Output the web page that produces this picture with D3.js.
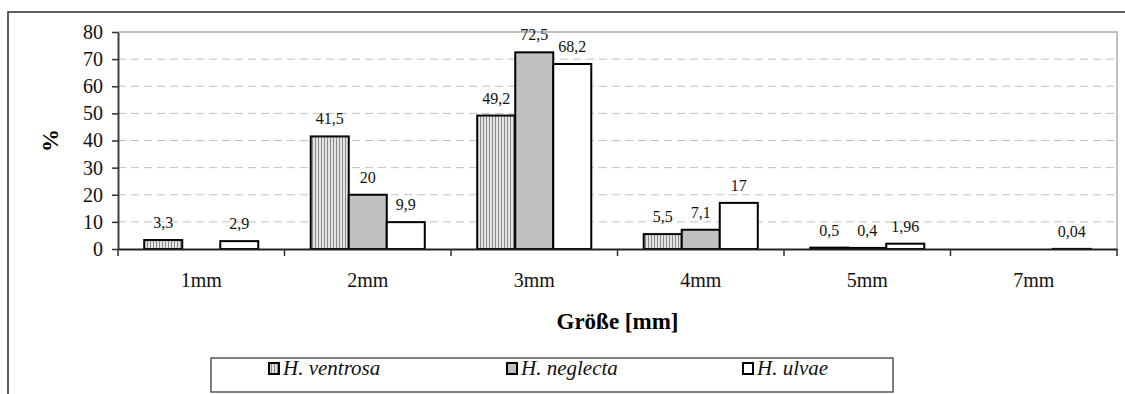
<!DOCTYPE html>
<html>
<head>
<meta charset="utf-8">
<script src="https://cdn.jsdelivr.net/npm/d3@7"></script>
<style>
	body { margin: 0; background: #fff; }
	svg { display: block; }
	svg text { font-family: "Liberation Serif", "Times New Roman", "DejaVu Serif", serif; }
</style>
</head>
<body>
<svg id="chart" width="1125" height="394"></svg>
<script>
// chart data
var categories = ["1mm", "2mm", "3mm", "4mm", "5mm", "7mm"];
var seriesNames = ["H. ventrosa", "H. neglecta", "H. ulvae"];
var ventrosa = [3.3, 41.5, 49.2, 5.5, 0.5, null];
var neglecta = [null, 20, 72.5, 7.1, 0.4, null];
var ulvae = [2.9, 9.9, 68.2, 17, 1.96, 0.04];
var yTicks = [0, 10, 20, 30, 40, 50, 60, 70, 80];

var seriesValues = [ventrosa, neglecta, ulvae];
var fills = ["url(#stripes)", "#c0c0c0", "#ffffff"];

var svg = d3.select("#chart");
var plot = { left: 118, right: 1117, top: 32, bottom: 249 };

// vertical stripe pattern for ventrosa
var pat = svg.append("defs").append("pattern")
	.attr("id", "stripes")
	.attr("patternUnits", "userSpaceOnUse")
	.attr("width", 3).attr("height", 3);
pat.append("rect").attr("width", 3).attr("height", 3).attr("fill", "#e4e4e4");
pat.append("rect").attr("width", 1).attr("height", 3).attr("fill", "#8a8a8a");

// outer chart frame (cut at right / bottom)
svg.append("path")
	.attr("d", "M8,394V12H1125")
	.attr("fill", "none")
	.attr("stroke", "#2a2a2a")
	.attr("stroke-width", 1.5);

var x0 = d3.scaleBand().domain(categories).range([plot.left, plot.right]).padding(0);
var x1 = d3.scaleBand().domain(seriesNames).range([0, x0.bandwidth()])
	.paddingInner(0).paddingOuter(0.69);
var y = d3.scaleLinear().domain([0, 80]).range([plot.bottom, plot.top]);

// gridlines
svg.append("g").selectAll("line")
	.data(yTicks.filter(function (t) { return t > 0 && t < 80; }))
	.join("line")
	.attr("x1", plot.left).attr("x2", plot.right)
	.attr("y1", function (d) { return y(d); })
	.attr("y2", function (d) { return y(d); })
	.attr("stroke", "#c0c0c0")
	.attr("stroke-dasharray", "8,5");

// plot area top and right border
svg.append("path")
	.attr("d", "M" + plot.left + "," + plot.top + "H" + plot.right + "V" + plot.bottom)
	.attr("fill", "none")
	.attr("stroke", "#c0c0c0")
	.attr("stroke-width", 2);

// y axis
var yAxis = svg.append("g")
	.attr("transform", "translate(" + plot.left + ",0)")
	.call(d3.axisLeft(y).tickValues(yTicks).tickSize(6).tickPadding(9).tickSizeOuter(0));
yAxis.select(".domain").attr("stroke", "#404040").attr("stroke-width", 2);
yAxis.selectAll(".tick line").attr("stroke", "#303030").attr("stroke-width", 1.5);
yAxis.selectAll("text")
	.attr("font-size", 20).attr("fill", "#111");

// bars
var groups = svg.append("g").selectAll("g")
	.data(seriesNames)
	.join("g");

groups.each(function (name, si) {
	var g = d3.select(this);
	var pts = categories.map(function (c, ci) {
		return { cat: c, v: seriesValues[si][ci] };
	}).filter(function (d) { return d.v !== null; });

	g.selectAll("rect")
		.data(pts)
		.join("rect")
		.attr("x", function (d) { return x0(d.cat) + x1(name); })
		.attr("width", x1.bandwidth())
		.attr("y", function (d) { return y(d.v); })
		.attr("height", function (d) { return plot.bottom - y(d.v); })
		.attr("fill", fills[si])
		.attr("stroke", "#000")
		.attr("stroke-width", 2);

	g.selectAll("text")
		.data(pts)
		.join("text")
		.attr("x", function (d) { return x0(d.cat) + x1(name) + x1.bandwidth() / 2; })
		.attr("y", function (d) { return y(d.v) - 12; })
		.attr("text-anchor", "middle")
		.attr("font-size", 16)
		.attr("fill", "#111")
		.text(function (d) { return String(d.v).replace(".", ","); });
});

// x axis
var xAxis = svg.append("g")
	.attr("transform", "translate(0," + plot.bottom + ")")
	.call(d3.axisBottom(x0).tickSize(0).tickPadding(24));
xAxis.select(".domain").attr("stroke", "#202020").attr("stroke-width", 2);
xAxis.selectAll("text")
	.attr("font-size", 20).attr("fill", "#111");

// category boundary ticks
var bounds = categories.map(function (c) { return x0(c); }).concat([plot.right]);
svg.append("g").selectAll("line")
	.data(bounds)
	.join("line")
	.attr("x1", function (d) { return d; }).attr("x2", function (d) { return d; })
	.attr("y1", plot.bottom).attr("y2", plot.bottom + 7)
	.attr("stroke", "#303030").attr("stroke-width", 1.5);

// axis titles
svg.append("text")
	.attr("transform", "translate(58," + ((plot.top + plot.bottom) / 2) + ") rotate(-90)")
	.attr("text-anchor", "middle")
	.attr("font-size", 23).attr("font-weight", "bold")
	.text("%");

svg.append("text")
	.attr("x", (plot.left + plot.right) / 2).attr("y", 329)
	.attr("text-anchor", "middle")
	.attr("font-size", 23).attr("font-weight", "bold")
	.text("Größe [mm]");

// legend
var legend = svg.append("g");
legend.append("rect")
	.attr("x", 211).attr("y", 358).attr("width", 682).attr("height", 34)
	.attr("fill", "#fff").attr("stroke", "#555").attr("stroke-width", 1.5);

var legendX = [268, 506, 742];
var items = legend.selectAll("g.item")
	.data(seriesNames)
	.join("g")
	.attr("class", "item")
	.attr("transform", function (d, i) { return "translate(" + legendX[i] + ",362)"; });
items.append("rect")
	.attr("x", 1).attr("y", 1).attr("width", 10).attr("height", 11)
	.attr("fill", function (d, i) { return fills[i]; })
	.attr("stroke", "#000").attr("stroke-width", 2);
items.append("text")
	.attr("x", 15).attr("y", 13)
	.attr("font-size", 21).attr("font-style", "italic")
	.attr("fill", "#111")
	.text(function (d) { return d; });
</script>
</body>
</html>
